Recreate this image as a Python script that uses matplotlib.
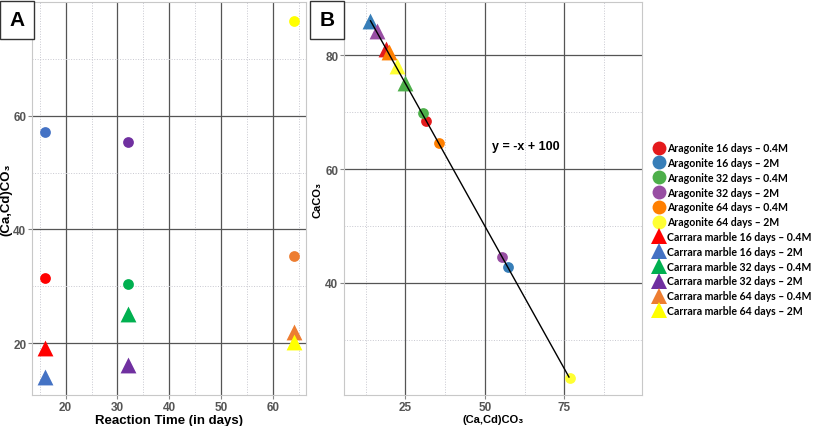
import matplotlib.pyplot as plt
from matplotlib.lines import Line2D

# panel A: (Ca,Cd)CO3 vs reaction time
days = [16, 16, 32, 32, 64, 64]
arag_cd = [31.4, 57.2, 30.4, 55.4, 35.4, 76.6]
marble_cd = [19.2, 14.0, 25.2, 16.2, 22.0, 20.2]

# panel B: CaCO3 vs (Ca,Cd)CO3
arag_b_x = [31.4, 57.3, 30.4, 55.4, 35.5, 76.8]
arag_b_y = [68.5, 42.8, 69.8, 44.5, 64.6, 23.3]
marble_b_x = [18.8, 13.8, 25.0, 15.9, 19.9, 22.2]
marble_b_y = [81.1, 86.0, 75.1, 84.2, 80.5, 78.1]
fit_x = [14.0, 76.5]
fit_y = [86.0, 23.5]

labels = ['16 days \u2013 0.4M', '16 days \u2013 2M', '32 days \u2013 0.4M',
          '32 days \u2013 2M', '64 days \u2013 0.4M', '64 days \u2013 2M']
office = ['#FF0000', '#4472C4', '#00B050', '#7030A0', '#ED7D31', '#FFFF00']
set1 = ['#e41a1c', '#377eb8', '#4daf4a', '#984ea3', '#ff7f00', '#ffff33']

plt.rcParams['font.family'] = ['Liberation Sans', 'DejaVu Sans']

fig = plt.figure(figsize=(8.13, 4.27), dpi=100)
axA = fig.add_axes([32 / 813, 31 / 427, 274 / 813, 393 / 427])
axB = fig.add_axes([344 / 813, 31 / 427, 298 / 813, 393 / 427])


def style(ax):
    ax.grid(True, which='major', color='#555555', lw=0.9)
    ax.grid(True, which='minor', color='#c8c8d0', lw=0.7, ls=':')
    ax.set_axisbelow(True)
    for s in ax.spines.values():
        s.set_color('#c8c8c8')
    ax.tick_params(which='major', length=3, color='#888888', labelsize=8.5,
                   labelcolor='#555555', pad=1)
    ax.tick_params(which='minor', length=0)
    for t in ax.get_xticklabels() + ax.get_yticklabels():
        t.set_fontweight('bold')


for i in range(6):
    axA.scatter(days[i], arag_cd[i], s=60, marker='o', color=office[i], lw=0, zorder=3)
    axA.scatter(days[i], marble_cd[i], s=130, marker='^', color=office[i], lw=0, zorder=3)
axA.set_xlim(13.5, 66.4)
axA.set_ylim(10.9, 80)
axA.set_xticks([20, 30, 40, 50, 60])
axA.set_xticks([15, 25, 35, 45, 55, 65], minor=True)
axA.set_yticks([20, 40, 60])
axA.set_yticks([30, 50, 70], minor=True)
style(axA)
axA.set_xlabel('Reaction Time (in days)', fontsize=9.5, fontweight='bold', labelpad=1)
axA.set_ylabel('(Ca,Cd)CO\u2083', fontsize=9.5, fontweight='bold', labelpad=1)

axB.plot(fit_x, fit_y, color='black', lw=1, zorder=4)
for i in range(6):
    axB.scatter(arag_b_x[i], arag_b_y[i], s=60, marker='o', color=set1[i], lw=0, zorder=3)
    axB.scatter(marble_b_x[i], marble_b_y[i], s=130, marker='^', color=set1[i], lw=0, zorder=3)
axB.set_xlim(5.65, 99.5)
axB.set_ylim(20.35, 89.3)
axB.set_xticks([25, 50, 75])
axB.set_xticks([12.5, 37.5, 62.5, 87.5], minor=True)
axB.set_yticks([40, 60, 80])
axB.set_yticks([30, 50, 70], minor=True)
style(axB)
axB.set_xlabel('(Ca,Cd)CO\u2083', fontsize=8, fontweight='bold', labelpad=1)
axB.set_ylabel('CaCO\u2083', fontsize=8, fontweight='bold', labelpad=2)
axB.text(52.3, 64.0, 'y = -x + 100', fontsize=9, fontweight='bold', va='center')

# panel letters
for x0, letter in [(1, 'A'), (311, 'B')]:
    fig.text((x0 + 16) / 813, 1 - 21 / 427, letter, fontsize=15, fontweight='bold',
             ha='center', va='center',
             bbox=dict(boxstyle='square,pad=0.45', fc='white', ec='#333333', lw=1))

handles = []
names = []
for i in range(6):
    handles.append(Line2D([], [], marker='o', ls='', color=set1[i], markersize=10, mew=0))
    names.append('Aragonite ' + labels[i])
for i in range(6):
    handles.append(Line2D([], [], marker='^', ls='', color=office[i], markersize=11, mew=0))
    names.append('Carrara marble ' + labels[i])
fig.legend(handles, names, loc='upper left', bbox_to_anchor=(648 / 813, 1 - 138 / 427),
           frameon=False, prop={'family': 'Lato', 'weight': 'bold', 'size': 7.6},
           handlelength=1.0, handletextpad=0.3, labelspacing=0.36, borderpad=0)

fig.savefig('out.png', dpi=100)
